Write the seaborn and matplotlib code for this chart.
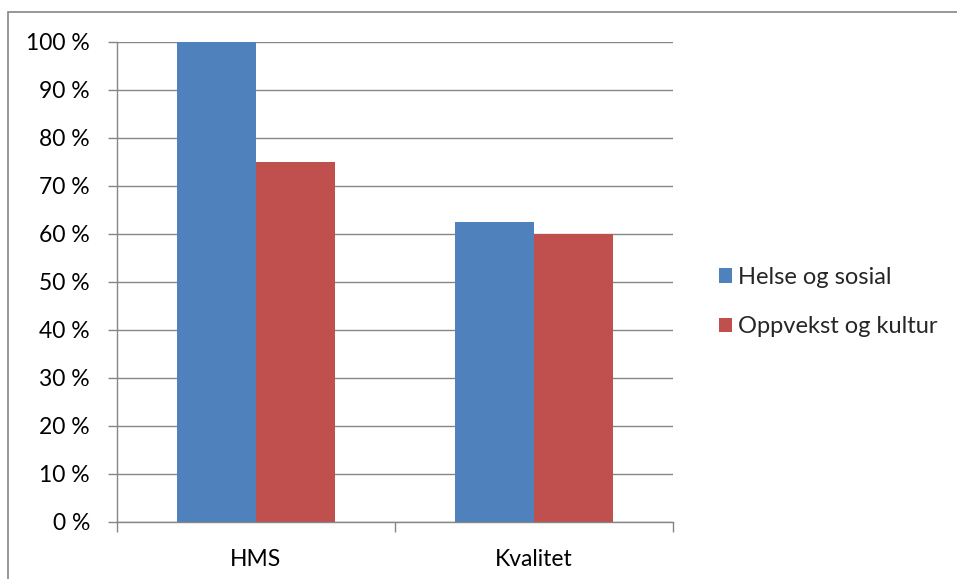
import matplotlib
matplotlib.use("Agg")
import matplotlib.pyplot as plt
from matplotlib.patches import Rectangle, Patch
from matplotlib.ticker import FixedLocator
import seaborn as sns
import pandas as pd

categories = ["HMS", "Kvalitet"]
series = ["Helse og sosial", "Oppvekst og kultur"]
helse_og_sosial = [100, 62.5]
oppvekst_og_kultur = [75, 60]
y_ticks = [0, 10, 20, 30, 40, 50, 60, 70, 80, 90, 100]
colors = ["#4F81BD", "#C0504D"]

df = pd.DataFrame({
    "Kategori": categories * 2,
    "Serie": [series[0]] * 2 + [series[1]] * 2,
    "Andel": helse_og_sosial + oppvekst_og_kultur,
})

sns.set_style("white")
plt.rcParams["font.family"] = ["Lato", "DejaVu Sans"]

W, H = 957, 579
fig = plt.figure(figsize=(W / 100, H / 100), dpi=100)
fig.patch.set_facecolor("white")

# outer chart frame
fig.add_artist(Rectangle((8 / W, -0.05), 1.2, (H - 12) / H + 0.05,
                         transform=fig.transFigure, fill=False,
                         edgecolor="#868686", linewidth=1.2))

ax = fig.add_axes([117 / W, (H - 522) / H, (673 - 117) / W, (522 - 42) / H])
sns.barplot(data=df, x="Kategori", y="Andel", hue="Serie", order=categories,
            hue_order=series, palette=colors, width=0.568, gap=0,
            saturation=1, ax=ax, legend=False, linewidth=0)

ax.set_xlim(-0.5, 1.5)
ax.set_ylim(0, 100)
ax.set_yticks(y_ticks)
ax.set_yticklabels([f"{v} %" for v in y_ticks])
ax.set_xlabel("")
ax.set_ylabel("")

ax.set_axisbelow(True)
ax.yaxis.grid(True, color="#868686", linewidth=1)
ax.xaxis.grid(False)

for side in ["top", "right"]:
    ax.spines[side].set_visible(False)
for side in ["left", "bottom"]:
    ax.spines[side].set_visible(True)
    ax.spines[side].set_color("#868686")
    ax.spines[side].set_linewidth(1)

ax.tick_params(axis="y", which="major", left=True, length=6.5, width=1,
               color="#868686", labelsize=16.5, labelcolor="#000000", pad=13)
ax.tick_params(axis="x", which="major", bottom=False, labelsize=16.5,
               labelcolor="#000000", pad=16)
ax.xaxis.set_minor_locator(FixedLocator([-0.5, 0.5, 1.5]))
ax.tick_params(axis="x", which="minor", bottom=True, length=7, width=1,
               color="#868686")

handles = [Patch(facecolor=c, edgecolor="none") for c in colors]
fig.legend(handles, series, loc="center left",
           bbox_to_anchor=(710 / W, (H - 302) / H), frameon=False,
           fontsize=17, handlelength=0.55, handleheight=0.55,
           handletextpad=0.25, labelspacing=1.2, borderaxespad=0)

fig.savefig("out.png", dpi=100, facecolor="white")
